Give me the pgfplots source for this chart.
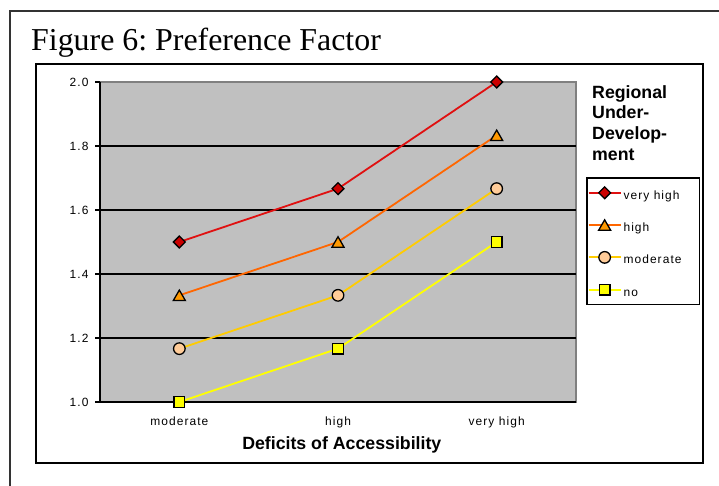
\documentclass[border=0pt]{standalone}
\usepackage{pgfplots}
\pgfplotsset{compat=1.18}
\usepackage{fontspec}
\setmainfont{Liberation Sans}
\newfontfamily\titleserif{Liberation Serif}
\newfontfamily\spacedsans[LetterSpace=9]{Liberation Sans}
\frenchspacing

\definecolor{plotbg}{HTML}{C0C0C0}
\definecolor{plotframe}{HTML}{808080}
\definecolor{vhline}{HTML}{E01010}
\definecolor{vhfill}{HTML}{CC0000}
\definecolor{hline}{HTML}{FF6600}
\definecolor{hfill}{HTML}{FF9900}
\definecolor{mline}{HTML}{FFCC00}
\definecolor{mfill}{HTML}{FFCC99}
\definecolor{nline}{HTML}{FFFF00}
\definecolor{nfill}{HTML}{FFFF00}

\newcommand{\legtext}[1]{\makebox[74bp][l]{#1}}

\begin{document}
\begin{tikzpicture}[x=1bp,y=1bp]
\useasboundingbox (0,0) rectangle (719,486);
% page frame and chart frame
\draw[line width=1.3bp, black!80] (10,0) -- (10,475) -- (719,475);
\draw[line width=2.4bp] (36,23) rectangle (703,422);
\node[anchor=base west, inner sep=0, font=\titleserif\fontsize{32}{36}\selectfont]
  at (31,435.5) {Figure 6: Preference Factor};

\begin{axis}[
  at={(100bp,84bp)}, anchor=south west,
  scale only axis, width=476bp, height=320bp,
  xmin=-0.5, xmax=2.5, ymin=1, ymax=2,
  axis lines=left,
  axis line style={-, line width=1.6bp, black},
  axis background/.style={fill=plotbg, draw=plotframe, line width=1.3bp},
  tick align=outside,
  major tick length=5bp,
  tick style={black, line width=1.2bp},
  xtick={0,1,2},
  xticklabels={moderate, high, very high},
  x tick style={draw=none},
  extra x ticks={-0.5,0.5,1.5,2.5},
  extra x tick labels={},
  extra x tick style={tick style={black, line width=1.2bp}},
  ytick={1,1.2,1.4,1.6,1.8,2},
  extra y ticks={1.2,1.4,1.6,1.8},
  extra y tick labels={},
  extra y tick style={grid=major, major tick length=0pt},
  major grid style={black, line width=1.6bp},
  /pgf/number format/assume math mode=true,
  yticklabel={\pgfmathprintnumber[fixed, fixed zerofill, precision=1]{\tick}},
  tick label style={font=\spacedsans\fontsize{12}{14}\selectfont},
  yticklabel style={xshift=-3bp},
  xticklabel style={text height=9bp, text depth=3bp, inner sep=0pt, yshift=-9bp},
  xlabel={Deficits of Accessibility},
  xlabel style={at={(axis description cs:0.508,-0.147)}, anchor=base, inner sep=0pt,
    font=\bfseries\fontsize{17.8}{21}\selectfont},
  legend style={at={(axis description cs:1.021,0.703)}, anchor=north west,
    draw=black, line width=1.5bp, fill=white,
    inner xsep=1bp, inner ysep=4.5bp, row sep=11.3bp, column sep=1bp,
    font=\spacedsans\fontsize{12}{14}\selectfont,
    nodes={inner sep=1bp, text height=16bp, text depth=3bp}},
  legend cell align=left,
  legend image code/.code={
    \draw[mark repeat=2, mark phase=2, #1]
      plot coordinates {(0bp,0bp) (16bp,0bp) (32bp,0bp)};},
]
\addplot[color=vhline, line width=1.8bp, mark=square*, mark size=4.2bp,
  mark options={rotate=45, fill=vhfill, draw=black, line width=1.3bp}]
  coordinates {(0,1.5) (1,1.6667) (2,2.0)};
\addlegendentry{\legtext{very high}}
\addplot[color=hline, line width=1.8bp, mark=triangle*, mark size=7bp,
  mark options={yshift=-1.75bp, fill=hfill, draw=black, line width=1.3bp}]
  coordinates {(0,1.3333) (1,1.5) (2,1.8333)};
\addlegendentry{\legtext{high}}
\addplot[color=mline, line width=1.8bp, mark=*, mark size=5.8bp,
  mark options={fill=mfill, draw=black, line width=1.3bp}]
  coordinates {(0,1.1667) (1,1.3333) (2,1.6667)};
\addlegendentry{\legtext{moderate}}
\addplot[color=nline, line width=1.8bp, mark=square*, mark size=5.3bp,
  mark options={fill=nfill, draw=black, line width=1.3bp}]
  coordinates {(0,1.0) (1,1.1667) (2,1.5)};
\addlegendentry{\legtext{no}}
\end{axis}

% legend heading
\node[anchor=north west, align=left, inner sep=0pt,
  font=\bfseries\fontsize{17.8}{21}\selectfont]
  at (592,401) {Regional\\Under-\\Develop-\\ment};
\end{tikzpicture}
\end{document}
